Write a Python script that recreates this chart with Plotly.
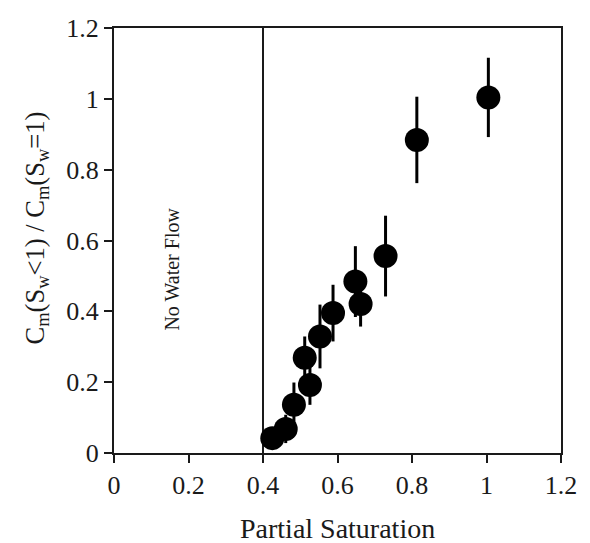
import plotly.graph_objects as go

# Data
saturation = [0.425, 0.461, 0.483, 0.512, 0.526, 0.553, 0.588, 0.648, 0.662, 0.729, 0.813, 1.005]
cm_ratio = [0.042, 0.068, 0.136, 0.269, 0.192, 0.329, 0.395, 0.484, 0.421, 0.556, 0.884, 1.004]
cm_error = [0.03, 0.04, 0.063, 0.06, 0.056, 0.09, 0.08, 0.1, 0.064, 0.114, 0.122, 0.112]
no_flow_limit = 0.4
tick_vals = [0, 0.2, 0.4, 0.6, 0.8, 1, 1.2]
tick_text = ["0", "0.2", "0.4", "0.6", "0.8", "1", "1.2"]
x_title = "Partial Saturation"
y_title = "C<sub>m</sub>(S<sub>w</sub>&lt;1) / C<sub>m</sub>(S<sub>w</sub>=1)"
region_label = "No Water Flow"

FONT = "Liberation Serif, Times New Roman, serif"
INK = "#1a1a1a"

fig = go.Figure()
fig.add_trace(go.Scatter(
    x=saturation, y=cm_ratio, mode="markers",
    marker=dict(size=24, color="black", line=dict(width=0)),
    error_y=dict(type="data", array=cm_error, visible=True,
                 thickness=3, width=0, color="black"),
    showlegend=False,
))

fig.add_shape(type="line", xref="x", yref="y",
              x0=no_flow_limit, x1=no_flow_limit, y0=0, y1=1.2,
              line=dict(color=INK, width=2), layer="below")

fig.add_annotation(x=0.155, y=0.52, xref="x", yref="y",
                   text=region_label, showarrow=False, textangle=-90,
                   font=dict(family=FONT, size=20, color=INK))

# axis titles placed as annotations for exact pixel placement
fig.add_annotation(x=0.5, y=0, xref="paper", yref="paper",
                   xanchor="center", yanchor="middle", yshift=-75,
                   text=x_title, showarrow=False,
                   font=dict(family=FONT, size=28, color=INK))
fig.add_annotation(x=0, y=0.5, xref="paper", yref="paper",
                   xanchor="center", yanchor="middle", xshift=-78, yshift=12,
                   text=y_title, showarrow=False, textangle=-90,
                   font=dict(family=FONT, size=26.5, color=INK))

axis_common = dict(
    showgrid=False, zeroline=False, showline=True, linecolor=INK,
    linewidth=2, mirror=True, ticks="outside", ticklen=8, tickwidth=2,
    tickcolor=INK, tickfont=dict(family=FONT, size=26, color=INK),
    tickvals=tick_vals, ticktext=tick_text, automargin=False,
)

fig.update_layout(
    width=582, height=535,
    margin=dict(l=106, r=29, t=20, b=90),
    paper_bgcolor="white", plot_bgcolor="white",
    xaxis=dict(range=[0, 1.2], **axis_common),
    yaxis=dict(range=[0, 1.2], **axis_common),
)

fig.write_html("out.html")
